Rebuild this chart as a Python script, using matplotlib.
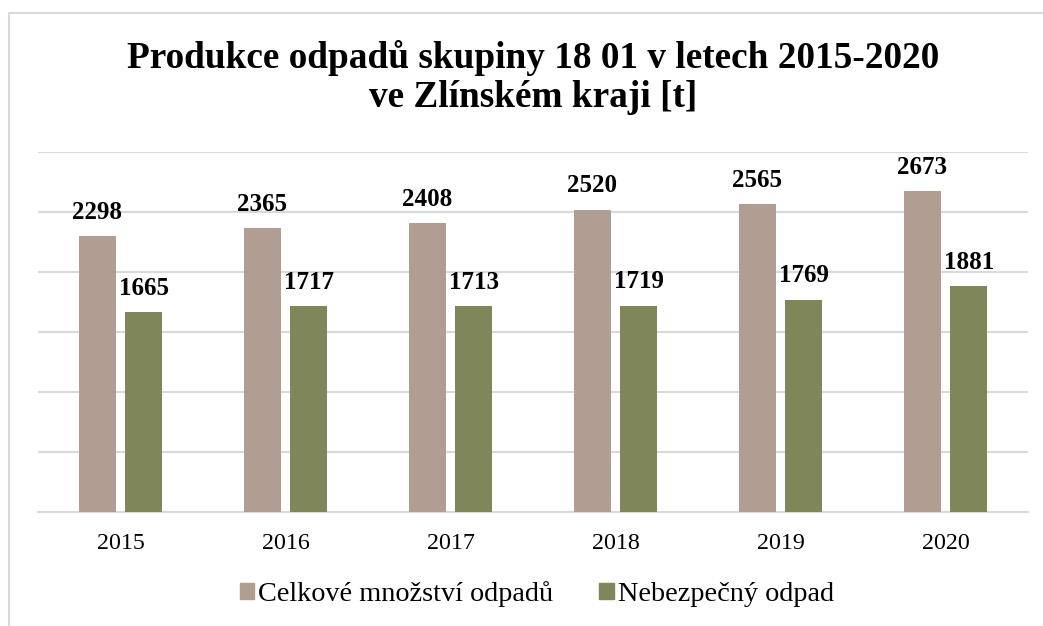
import matplotlib
matplotlib.use("Agg")
import matplotlib.pyplot as plt
import numpy as np
from matplotlib.lines import Line2D

years = ["2015", "2016", "2017", "2018", "2019", "2020"]
celkove = [2298, 2365, 2408, 2520, 2565, 2673]
nebezpecny = [1665, 1717, 1713, 1719, 1769, 1881]
series_names = ["Celkové množství odpadů", "Nebezpečný odpad"]
title_lines = ["Produkce odpadů skupiny 18 01 v letech 2015-2020", "ve Zlínském kraji [t]"]

c1 = "#B29D93"
c2 = "#7F8659"
grid_c = "#D9D9D9"

plt.rcParams['font.family'] = ['Liberation Serif', 'DejaVu Serif']

fig = plt.figure(figsize=(10.43, 6.26), dpi=100)
ax = fig.add_axes([38/1043, 1-512/626, 990/1043, 360/626])

x = np.arange(len(years))
w = 0.224
off = 0.142
b1 = ax.bar(x - off, celkove, w, color=c1, zorder=3)
b2 = ax.bar(x + off, nebezpecny, w, color=c2, zorder=3)

for bars, vals in ((b1, celkove), (b2, nebezpecny)):
    for r, v in zip(bars, vals):
        ax.annotate(f"{v}", (r.get_x() + r.get_width()/2, v), xytext=(0, 12.5),
                    textcoords="offset points", ha="center", va="baseline",
                    fontsize=18, fontweight="bold")

ax.set_xlim(-0.5, len(years) - 0.5)
ax.set_ylim(0, 3000)
ax.set_yticks(np.arange(0, 3001, 500))
ax.yaxis.grid(True, color=grid_c, linewidth=1.5, zorder=0)
ax.tick_params(axis="y", left=False, labelleft=False)
ax.set_xticks(x)
ax.set_xticklabels(years, fontsize=17.3)
ax.tick_params(axis="x", length=0, pad=15)
for s in ("top", "right", "left"):
    ax.spines[s].set_visible(False)
ax.spines["bottom"].set_color(grid_c)
ax.spines["bottom"].set_linewidth(1.5)

fig.text(533/1043, 1-68/626, title_lines[0], ha="center", va="baseline",
         fontsize=26.8, fontweight="bold")
fig.text(533/1043, 1-107/626, title_lines[1], ha="center", va="baseline",
         fontsize=26.8, fontweight="bold")

handles = [plt.Rectangle((0, 0), 1, 1, color=c1), plt.Rectangle((0, 0), 1, 1, color=c2)]
fig.legend(handles, series_names, loc="center", bbox_to_anchor=(537/1043, 1-594/626),
           ncol=2, frameon=False, fontsize=20.3, handlelength=0.5, handleheight=0.5,
           handletextpad=0.17, columnspacing=1.63, borderpad=0, borderaxespad=0)

# outer border (top and left)
fig.add_artist(Line2D([9/1043, 9/1043], [0, 1-13/626], color="#D9D9D9", lw=1.5, transform=fig.transFigure))
fig.add_artist(Line2D([9/1043, 1], [1-13/626, 1-13/626], color="#D9D9D9", lw=1.5, transform=fig.transFigure))

fig.savefig("out.png", dpi=100)
